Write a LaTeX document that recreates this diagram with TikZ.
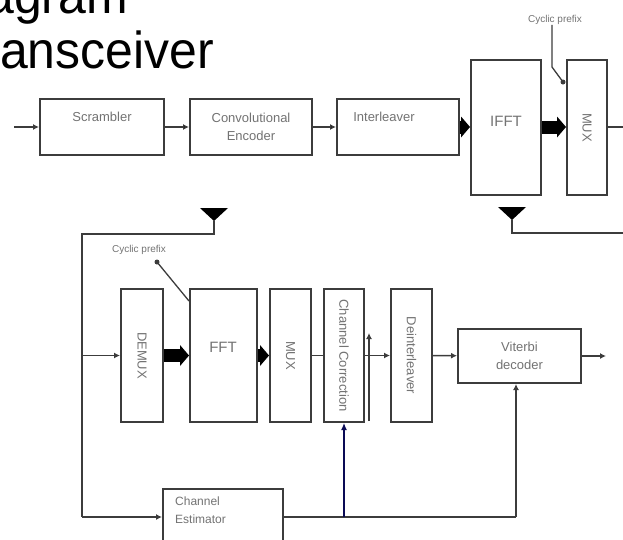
\documentclass[tikz,border=0pt]{standalone}
\usepackage{fontspec}
\setmainfont{Liberation Sans}
\usetikzlibrary{shapes,arrows,calc,arrows.meta}
\usetikzlibrary{positioning}
\definecolor{lin}{RGB}{60,60,60}
\definecolor{txt}{RGB}{115,115,115}
\definecolor{navyln}{RGB}{10,10,85}

\begin{document}
\begin{tikzpicture}[x=1pt,y=-1pt,
    blk/.style={draw=lin, line width=2pt, fill=white, inner sep=0pt, text=txt,
        font=\fontsize{13}{18}\selectfont, align=center},
    lbl/.style={text=txt, inner sep=0pt, font=\fontsize{13}{18}\selectfont, align=left},
    tiny/.style={text=txt, inner sep=0pt, font=\fontsize{10}{11}\selectfont},
    sm/.style={draw=lin, line width=1.5pt, -{Latex[length=6pt 0 0,width=6pt 0 0]}},
    ln/.style={draw=lin, line width=1.5pt},
    ptr/.style={draw=lin, line width=1.3pt},
    fat/.style={draw=black, line width=13pt, -{Triangle[length=9pt 0 0,width=21pt 0 0,line width=0pt]}}]
    \useasboundingbox (0,0) rectangle (623,539);
    \clip (0,0) rectangle (623,539);

    % title, cut off by the frame
    \node[anchor=base east, inner sep=0pt, font=\fontsize{52}{55}\selectfont] (ttl1) at (128,13) {\scalebox{0.96}[1]{agram}};
    \node[anchor=base east, inner sep=0pt, font=\fontsize{52}{55}\selectfont] (ttl2) at (214,68) {\scalebox{0.96}[1]{ansceiver}};

    % transmitter
    \draw (102,127) node[blk, minimum width=124pt, minimum height=56pt] (scr) {};
    \draw (251,127) node[blk, minimum width=122pt, minimum height=56pt] (conv) {Convolutional\\Encoder};
    \draw (398,127) node[blk, minimum width=122pt, minimum height=56pt] (intl) {};
    \draw (506,127.5) node[blk, minimum width=70pt, minimum height=135pt] (ifft) {};
    \draw (587,127.5) node[blk, minimum width=40pt, minimum height=135pt] (mux) {\rotatebox[origin=c]{-90}{MUX}};
    \node[lbl] (scrtxt) at (102,117) {Scrambler};
    \node[lbl] (intltxt) at (384,117) {Interleaver};
    \node[lbl, font=\fontsize{15}{18}\selectfont] (iffttxt) at (506,121) {IFFT};
    \node[tiny] (cp1) at (555,20) {Cyclic prefix};

    % receiver
    \draw (142,355.5) node[blk, minimum width=42pt, minimum height=133pt] (demux) {\rotatebox[origin=c]{-90}{DEMUX}};
    \draw (223.5,355.5) node[blk, minimum width=67pt, minimum height=133pt] (fft) {};
    \draw (290.5,355.5) node[blk, minimum width=41pt, minimum height=133pt] (rmux) {\rotatebox[origin=c]{-90}{MUX}};
    \draw (344,355.5) node[blk, minimum width=40pt, minimum height=133pt] (chcor) {\rotatebox[origin=c]{-90}{Channel Correction}};
    \draw (411.5,355.5) node[blk, minimum width=41pt, minimum height=133pt] (deint) {\rotatebox[origin=c]{-90}{Deinterleaver}};
    \draw (519.5,356) node[blk, minimum width=123pt, minimum height=54pt] (vit) {Viterbi\\decoder};
    \draw (223,525) node[blk, minimum width=120pt, minimum height=72pt] (est) {};
    \node[lbl, font=\fontsize{15}{18}\selectfont] (ffttxt) at (223,347) {FFT};
    \node[lbl, anchor=north west, font=\fontsize{12}{18}\selectfont] (esttxt) at (175,497) {Channel\\Estimator};
    \node[tiny] (cp2) at (139,250) {Cyclic prefix};

    % free ends and corners
    \coordinate (in) at (14,127);
    \coordinate (out) at (623,127);
    \coordinate (ant1) at (512,220);
    \coordinate (rfout) at (623,233);
    \coordinate (ant2) at (214,221);
    \coordinate (lt) at (82,234);
    \coordinate (lb) at (82,517);
    \coordinate (rb) at (516,517);
    \coordinate (tap) at (344,517);
    \coordinate (rxout) at (606,356);
    \coordinate (cct) at (369,333);
    \coordinate (ccb) at (369,421);
    \coordinate (p1a) at (552,67);
    \coordinate (p1b) at (563,82);
    \coordinate (p2a) at (157,262);
    \coordinate (p2b) at (189,301);

    % antennas
    \fill[black] (ant1) -- ++(-14,-13) -- ++(28,0) -- cycle;
    \fill[black] (ant2) -- ++(-14,-13) -- ++(28,0) -- cycle;

    \draw[sm] (in) -- (scr);
    \path[sm]
        (scr) edge (conv)
        (conv) edge (intl);
    \draw[fat] (intl.east) -- (ifft.west |- intl.east);
    \draw[fat] (ifft.east |- intl.east) -- (mux.west |- intl.east);
    \draw[ln] (mux.east |- intl.east) -- (out);
    \draw[ln] (ant1) |- (rfout);
    \draw[ptr] (cp1.south -| p1a) -- (p1a) -- (p1b);
    \fill[lin] (p1b) circle (2.5pt);

    \draw[ln] (ant2) |- (lt) -- (lb);
    \draw[sm] (lt |- demux) -- (demux);
    \draw[fat] (demux) -- (fft);
    \draw[fat] (fft) -- (rmux);
    \draw[ln] (rmux) -- (chcor);
    \draw[sm] (chcor) -- (deint);
    \draw[sm] (deint) -- (vit);
    \draw[sm] (vit) -- (rxout);
    \draw[sm] (ccb) -- (cct);
    \draw[ptr] (p2a) -- (p2b);
    \fill[lin] (p2a) circle (2.5pt);

    \draw[sm] (lb) -- (est.west |- lb);
    \draw[ln] (est.east |- lb) -- (rb);
    \draw[sm] (rb) -- (rb |- vit.south);
    \draw[navyln, line width=1.2pt, -{Latex[length=7pt 0 0,width=6pt 0 0]}] (tap) -- (chcor.south);
\end{tikzpicture}
\end{document}
